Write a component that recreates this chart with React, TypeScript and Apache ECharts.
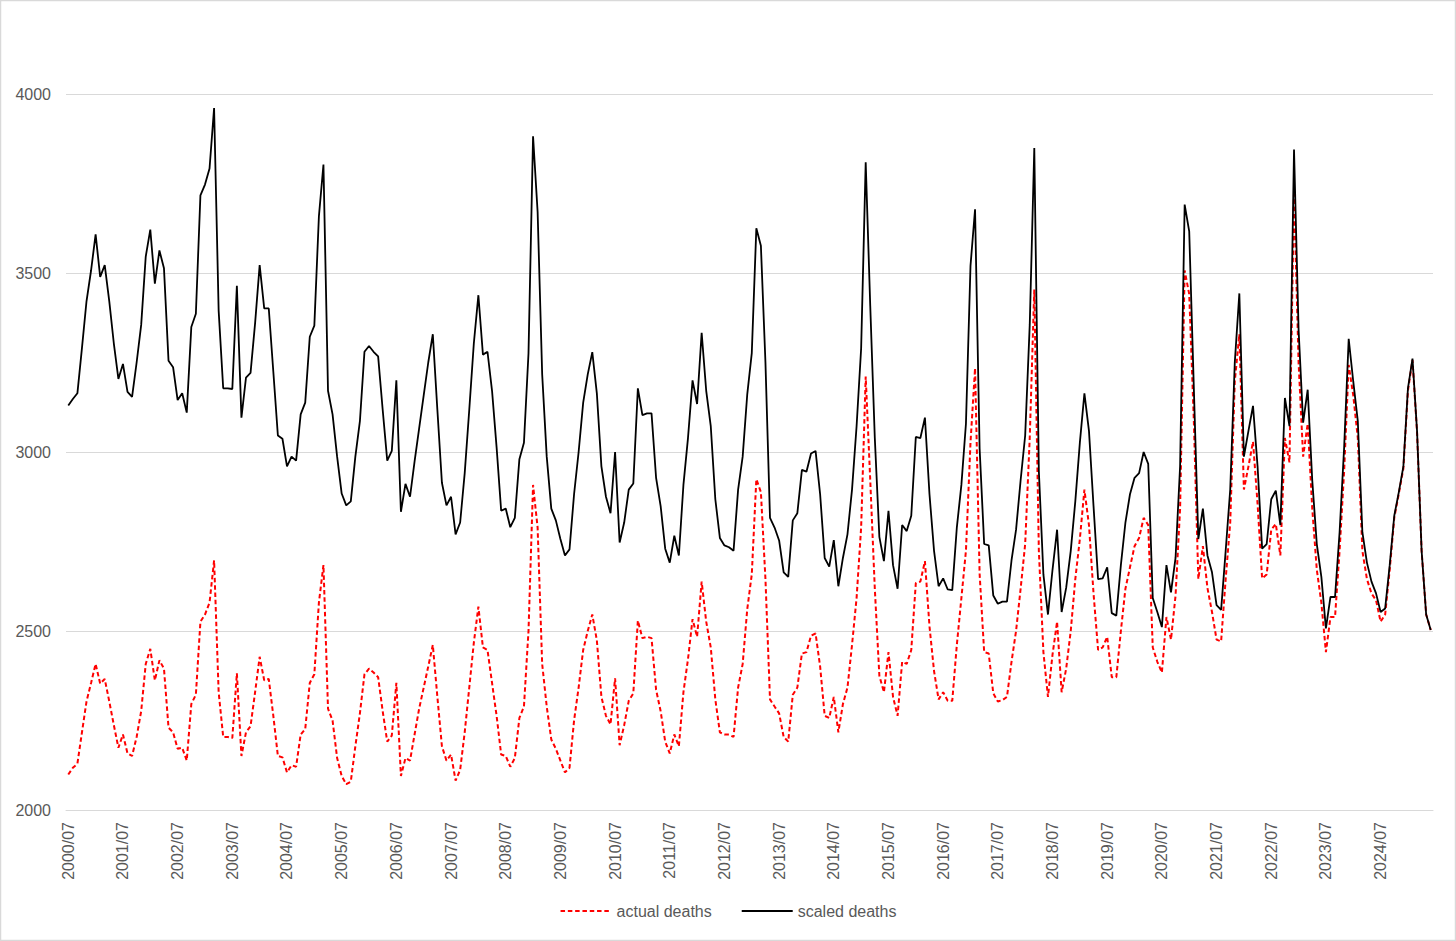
import React, { useEffect, useRef } from "react";
import * as echarts from "echarts";

const START_YEAR = 2000;
const START_MONTH = 7;
const MONTH_COUNT = 300;

const categories: string[] = [];
for (let k = 0; k < MONTH_COUNT; k++) {
  const m = START_MONTH - 1 + k;
  const y = START_YEAR + Math.floor(m / 12);
  const mm = (m % 12) + 1;
  categories.push(`${y}/${mm < 10 ? "0" + mm : mm}`);
}

const yTicks = [2000, 2500, 3000, 3500, 4000];

const actualDeaths = [
  2099, 2118, 2129, 2217, 2303, 2355, 2408, 2353, 2366, 2303, 2237, 2174,
  2211, 2158, 2151, 2204, 2276, 2408, 2450, 2362, 2418, 2395, 2230, 2217,
  2171, 2174, 2138, 2296, 2322, 2526, 2546, 2579, 2697, 2329, 2204, 2204,
  2201, 2382, 2151, 2217, 2234, 2329, 2428, 2362, 2366, 2263, 2151, 2147,
  2105, 2125, 2121, 2211, 2226, 2355, 2379, 2579, 2684, 2283, 2250, 2145,
  2095, 2072, 2079, 2178, 2270, 2379, 2395, 2384, 2371, 2276, 2191, 2208,
  2355, 2095, 2145, 2138, 2211, 2283, 2342, 2401, 2461, 2316, 2178, 2138,
  2155, 2082, 2112, 2217, 2342, 2467, 2568, 2454, 2447, 2355, 2263, 2155,
  2151, 2121, 2145, 2257, 2289, 2500, 2908, 2789, 2408, 2289, 2197, 2171,
  2138, 2105, 2118, 2250, 2342, 2447, 2500, 2546, 2474, 2316, 2263, 2239,
  2368, 2181, 2237, 2305, 2326, 2529, 2480, 2484, 2480, 2336, 2276, 2191,
  2158, 2211, 2178, 2329, 2421, 2533, 2484, 2638, 2526, 2454, 2309, 2217,
  2211, 2211, 2204, 2342, 2408, 2560, 2658, 2924, 2888, 2645, 2309, 2289,
  2270, 2204, 2191, 2322, 2342, 2437, 2441, 2487, 2493, 2401, 2263, 2257,
  2316, 2217, 2296, 2342, 2461, 2592, 2789, 3211, 2921, 2618, 2375, 2329,
  2441, 2316, 2263, 2414, 2408, 2447, 2634, 2638, 2695, 2513, 2388, 2309,
  2329, 2305, 2305, 2461, 2592, 2724, 3026, 3234, 2660, 2441, 2437, 2326,
  2303, 2307, 2316, 2414, 2500, 2618, 2743, 3039, 3454, 2724, 2441, 2316,
  2434, 2526, 2329, 2395, 2500, 2645, 2757, 2895, 2796, 2605, 2447, 2454,
  2484, 2371, 2371, 2500, 2618, 2678, 2737, 2760, 2816, 2796, 2454, 2414,
  2384, 2539, 2476, 2599, 2842, 3507, 3441, 3092, 2645, 2737, 2620, 2553,
  2476, 2471, 2645, 2803, 3197, 3329, 2895, 2960, 3029, 2855, 2647, 2658,
  2783, 2799, 2711, 3039, 2971, 3730, 3250, 2987, 3079, 2842, 2671, 2579,
  2441, 2539, 2539, 2724, 2947, 3243, 3158, 3039, 2724, 2645, 2605, 2586,
  2526, 2546, 2671, 2816, 2884, 2954, 3171, 3257, 3055, 2724, 2546, 2503,
];

const scaledDeaths = [
  3130, 3148, 3164, 3290, 3421, 3507, 3608, 3489, 3522, 3421, 3303, 3204,
  3246, 3168, 3154, 3250, 3355, 3546, 3621, 3470, 3563, 3513, 3255, 3237,
  3145, 3164, 3110, 3349, 3386, 3717, 3747, 3792, 3961, 3395, 3178, 3178,
  3176, 3464, 3096, 3208, 3221, 3360, 3522, 3401, 3401, 3224, 3046, 3037,
  2960, 2987, 2976, 3105, 3138, 3322, 3353, 3658, 3803, 3171, 3105, 2987,
  2884, 2851, 2862, 2987, 3086, 3280, 3296, 3280, 3267, 3118, 2976, 3003,
  3200, 2833, 2911, 2875, 2974, 3066, 3158, 3250, 3329, 3118, 2914, 2851,
  2875, 2770, 2803, 2941, 3118, 3303, 3438, 3272, 3280, 3171, 3013, 2836,
  2842, 2790, 2816, 2980, 3026, 3276, 3882, 3671, 3217, 2987, 2842, 2809,
  2757, 2711, 2728, 2882, 3000, 3138, 3217, 3279, 3164, 2960, 2875, 2829,
  3000, 2747, 2803, 2895, 2912, 3178, 3103, 3108, 3108, 2928, 2849, 2730,
  2691, 2766, 2711, 2908, 3039, 3200, 3134, 3333, 3171, 3072, 2868, 2760,
  2739, 2734, 2724, 2895, 2987, 3160, 3276, 3625, 3576, 3250, 2816, 2789,
  2753, 2664, 2651, 2809, 2829, 2950, 2945, 2996, 3003, 2882, 2704, 2680,
  2754, 2625, 2704, 2770, 2895, 3072, 3289, 3809, 3408, 3039, 2763, 2695,
  2836, 2684, 2618, 2796, 2779, 2822, 3042, 3039, 3096, 2882, 2724, 2625,
  2647, 2616, 2614, 2789, 2908, 3079, 3520, 3678, 3010, 2743, 2739, 2599,
  2576, 2582, 2582, 2697, 2783, 2921, 3046, 3355, 3849, 2947, 2658, 2546,
  2671, 2783, 2553, 2621, 2724, 2862, 3026, 3164, 3059, 2849, 2645, 2647,
  2678, 2550, 2543, 2684, 2803, 2882, 2928, 2941, 3000, 2967, 2592, 2553,
  2511, 2684, 2608, 2704, 2960, 3691, 3616, 3184, 2757, 2842, 2711, 2664,
  2572, 2559, 2724, 2895, 3250, 3443, 2987, 3059, 3129, 2960, 2730, 2743,
  2868, 2892, 2796, 3151, 3072, 3845, 3342, 3082, 3174, 2921, 2743, 2651,
  2507, 2595, 2595, 2776, 3013, 3316, 3197, 3086, 2776, 2691, 2638, 2605,
  2553, 2563, 2684, 2822, 2888, 2960, 3178, 3261, 3059, 2724, 2546, 2503,
];

const FONT = "'Liberation Sans', Arial, sans-serif";
const TEXT_COLOR = "#595959";
const GRID_COLOR = "#d9d9d9";

export default function App() {
  const ref = useRef<HTMLDivElement>(null);

  useEffect(() => {
    if (!ref.current) return;
    const chart = echarts.init(ref.current, undefined, { renderer: "svg" });
    chart.setOption({
      animation: false,
      backgroundColor: "#ffffff",
      textStyle: { fontFamily: FONT },
      graphic: [
        {
          type: "rect",
          shape: { x: 0.5, y: 0.5, width: 1455, height: 940 },
          style: { fill: "none", stroke: GRID_COLOR, lineWidth: 1.5 },
          silent: true,
        },
      ],
      grid: { left: 66, right: 23, top: 94, bottom: 131 },
      legend: {
        left: "center",
        top: 898,
        itemWidth: 51,
        itemHeight: 18,
        itemGap: 29,
        itemStyle: { opacity: 0 },
        textStyle: { color: TEXT_COLOR, fontSize: 16, fontFamily: FONT },
        data: ["actual deaths", "scaled deaths"],
      },
      xAxis: {
        type: "category",
        data: categories,
        boundaryGap: true,
        axisLine: { show: true, lineStyle: { color: GRID_COLOR, width: 1 } },
        axisTick: { show: false },
        splitLine: { show: false },
        axisLabel: {
          interval: 11,
          rotate: 90,
          margin: 12,
          color: TEXT_COLOR,
          fontSize: 16,
          fontFamily: FONT,
        },
      },
      yAxis: {
        type: "value",
        min: yTicks[0],
        max: yTicks[yTicks.length - 1],
        interval: 500,
        axisLine: { show: false },
        axisTick: { show: false },
        splitLine: { show: true, lineStyle: { color: GRID_COLOR, width: 1 } },
        axisLabel: {
          margin: 15,
          color: TEXT_COLOR,
          fontSize: 16,
          fontFamily: FONT,
          formatter: (v: number) => String(v),
        },
      },
      series: [
        {
          name: "actual deaths",
          type: "line",
          data: actualDeaths,
          symbol: "none",
          showSymbol: false,
          color: "#ff0000",
          lineStyle: { color: "#ff0000", width: 2, type: [4.5, 2.8] },
          z: 2,
        },
        {
          name: "scaled deaths",
          type: "line",
          data: scaledDeaths,
          symbol: "none",
          showSymbol: false,
          color: "#000000",
          lineStyle: { color: "#000000", width: 1.8 },
          z: 3,
        },
      ],
    });
    return () => chart.dispose();
  }, []);

  return (
    <div
      ref={ref}
      style={{
        position: "fixed",
        left: 0,
        top: 0,
        width: 1456,
        height: 941,
        background: "#fff",
      }}
    />
  );
}
